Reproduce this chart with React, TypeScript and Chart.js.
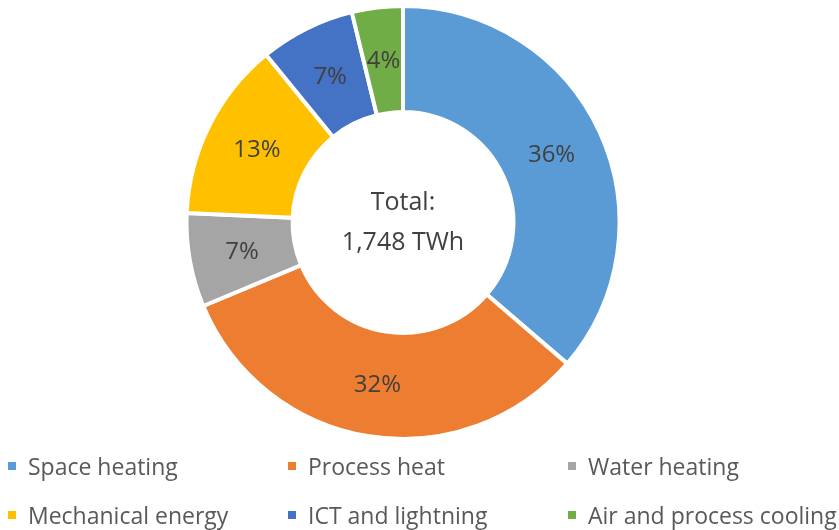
import React, { useEffect, useRef } from "react";
import { Chart, registerables } from "chart.js";

Chart.register(...registerables);

const categories = [
  "Space heating",
  "Process heat",
  "Water heating",
  "Mechanical energy",
  "ICT and lightning",
  "Air and process cooling",
];
const shares = [36.3, 32.4, 7.0, 13.4, 7.1, 3.8];
const colors = ["#5B9BD5", "#ED7D31", "#A5A5A5", "#FFC000", "#4472C4", "#70AD47"];
const centerLines = ["Total:", "1,748 TWh"];

const FONT = "'Open Sans', 'Liberation Sans', sans-serif";

const labelPlugin = {
  id: "arcLabels",
  afterDatasetsDraw(chart: any) {
    const ctx = chart.ctx;
    const meta = chart.getDatasetMeta(0);
    const data = chart.data.datasets[0].data as number[];
    const total = data.reduce((a, b) => a + b, 0);
    ctx.save();
    ctx.fillStyle = "#404040";
    ctx.font = `24px ${FONT}`;
    ctx.textAlign = "center";
    ctx.textBaseline = "middle";
    meta.data.forEach((arc: any, i: number) => {
      const { x, y, startAngle, endAngle, innerRadius, outerRadius } = arc.getProps(
        ["x", "y", "startAngle", "endAngle", "innerRadius", "outerRadius"],
        true
      );
      const mid = (startAngle + endAngle) / 2;
      const r = (innerRadius + outerRadius) / 2;
      const pct = Math.round((data[i] / total) * 100) + "%";
      ctx.fillText(pct, x + Math.cos(mid) * r, y + Math.sin(mid) * r + 1);
    });
    const arc0 = meta.data[0] as any;
    ctx.font = `25px ${FONT}`;
    ctx.fillText(centerLines[0], arc0.x, arc0.y - 20);
    ctx.fillText(centerLines[1], arc0.x, arc0.y + 20);
    ctx.restore();
  },
};

export default function App() {
  const ref = useRef<HTMLCanvasElement | null>(null);

  useEffect(() => {
    document.body.style.margin = "0";
    const chart = new Chart(ref.current as HTMLCanvasElement, {
      type: "doughnut",
      data: {
        labels: categories,
        datasets: [
          {
            data: shares,
            backgroundColor: colors,
            borderColor: "#FFFFFF",
            borderWidth: 4,
          },
        ],
      },
      options: {
        animation: false,
        responsive: false,
        cutout: "51%",
        layout: { padding: { top: 4, left: 0, right: 33, bottom: 89 } },
        plugins: {
          legend: { display: false },
          tooltip: { enabled: false },
        },
      },
      plugins: [labelPlugin],
    });
    return () => chart.destroy();
  }, []);

  const colX = [8, 288, 568];
  const rowY = [466, 515];

  return (
    <div style={{ position: "fixed", left: 0, top: 0, width: 839, height: 530, background: "#fff" }}>
      <canvas ref={ref} width={839} height={530} style={{ position: "absolute", left: 0, top: 0 }} />
      {categories.map((c, i) => {
        const col = i % 3;
        const row = Math.floor(i / 3);
        return (
          <div
            key={c}
            style={{
              position: "absolute",
              left: colX[col],
              top: rowY[row] - 16,
              height: 32,
              display: "flex",
              alignItems: "center",
              fontFamily: FONT,
              fontSize: 23,
              color: "#595959",
              whiteSpace: "nowrap",
            }}
          >
            <span style={{ width: 8, height: 8, background: colors[i], marginRight: 12, display: "inline-block" }} />
            <span>{c}</span>
          </div>
        );
      })}
    </div>
  );
}
